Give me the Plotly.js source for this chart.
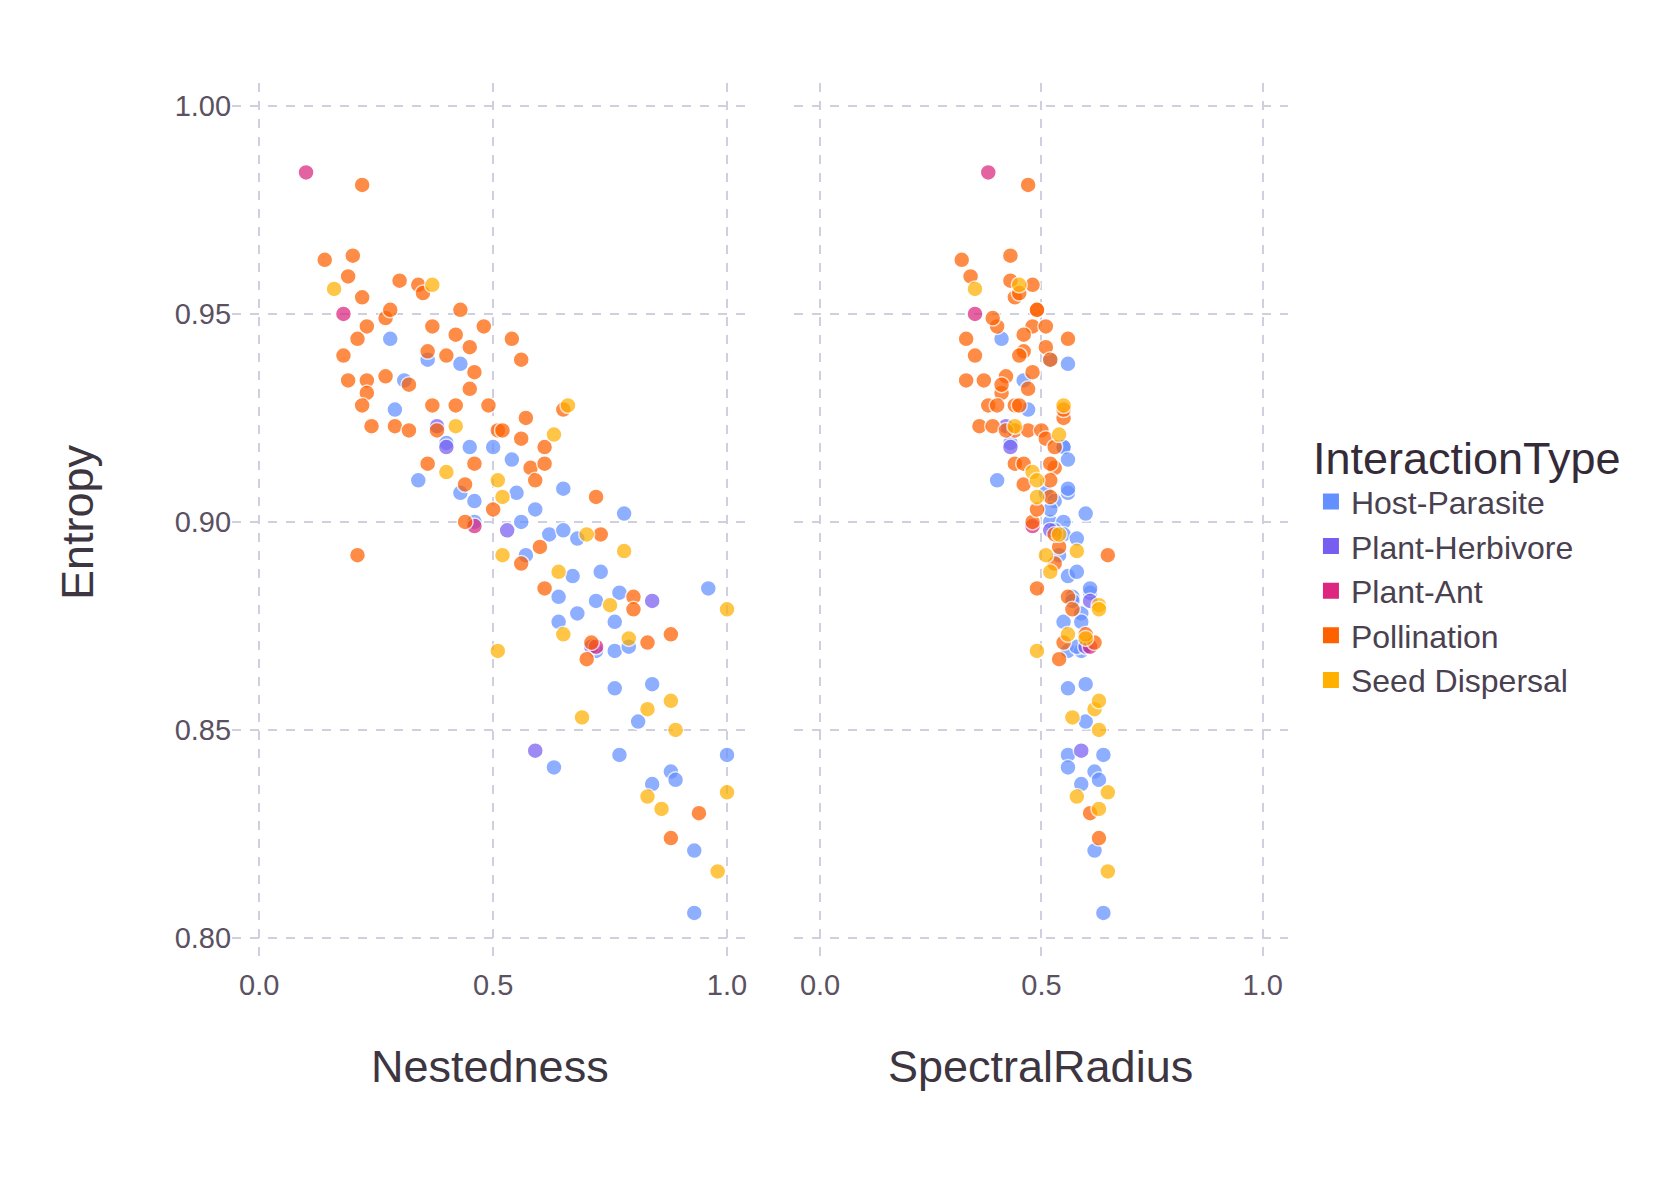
<!DOCTYPE html>
<html>
<head>
<meta charset="utf-8">
<script src="https://cdn.plot.ly/plotly-3.0.1.min.js"></script>
<style>body{margin:0;background:#fff}#chart{width:1670px;height:1181px}</style>
</head>
<body>
<div id="chart"></div>
<script>
const categories = ['Host-Parasite', 'Plant-Herbivore', 'Plant-Ant', 'Pollination', 'Seed Dispersal'];
const colors = ['#648fff', '#785ef0', '#dc267f', '#fe6100', '#ffb000'];

// Host-Parasite
const hpNested = [.28, .31, .29, .34, .36, .43, .45, .43, .46, .46, .50, .54, .55, .56, .57, .59, .62, .65, .65, .64, .64, .67, .68, .68, .72, .73, .72, .76, .77, .76, .79, .78, .76, .81, .84, .77, .84, .88, .89, .63, .96, 1.0, .93, .93, .40];
const hpSpectral = [.41, .46, .47, .40, .52, .56, .55, .51, .53, .52, .55, .56, .56, .55, .54, .52, .55, .53, .56, .57, .55, .56, .58, .59, .57, .58, .56, .59, .61, .59, .58, .60, .56, .60, .60, .56, .59, .62, .63, .56, .61, .64, .62, .64, .43];
const hpEntropy = [.944, .934, .927, .910, .939, .938, .918, .907, .905, .900, .918, .915, .907, .900, .892, .903, .897, .898, .908, .882, .876, .887, .896, .878, .881, .888, .869, .876, .883, .869, .870, .902, .860, .852, .861, .844, .837, .840, .838, .841, .884, .844, .821, .806, .919];

// Plant-Herbivore
const phNested = [.40, .38, .59, .84, .71, .53];
const phSpectral = [.43, .42, .59, .61, .60, .52];
const phEntropy = [.918, .923, .845, .881, .870, .898];

// Plant-Ant
const paNested = [.10, .18, .46, .72];
const paSpectral = [.38, .35, .48, .61];
const paEntropy = [.984, .950, .899, .870];

// Pollination
const poNested = [.22, .14, .20, .19, .22, .30, .34, .35, .23, .21, .27, .28, .18, .19, .23, .23, .22, .24, .27, .29, .32, .32, .36, .37, .40, .42, .43, .45, .48, .45, .46, .37, .38, .42, .36, .46, .44, .44, .49, .51, .52, .50, .54, .56, .56, .57, .58, .59, .61, .61, .65, .60, .56, .21, .61, .72, .73, .80, .80, .71, .70, .83, .88, .88, .94];
const poSpectral = [.47, .32, .43, .34, .44, .43, .48, .45, .40, .33, .39, .49, .35, .33, .37, .41, .38, .36, .42, .39, .44, .41, .46, .48, .45, .46, .49, .51, .51, .47, .48, .40, .42, .44, .44, .46, .46, .48, .45, .47, .50, .49, .56, .52, .51, .55, .53, .52, .52, .53, .55, .54, .53, .65, .49, .52, .53, .56, .57, .55, .54, .62, .60, .63, .61];
const poEntropy = [.981, .963, .964, .959, .954, .958, .957, .955, .947, .944, .949, .951, .940, .934, .934, .931, .928, .923, .935, .923, .922, .933, .941, .947, .940, .945, .951, .942, .947, .932, .936, .928, .922, .928, .914, .914, .909, .900, .928, .922, .922, .903, .944, .939, .920, .925, .913, .910, .914, .918, .927, .894, .890, .892, .884, .906, .897, .882, .879, .871, .867, .871, .873, .824, .830];

// Seed Dispersal
const sdNested = [.16, .37, .40, .42, .51, .52, .52, .51, .63, .66, .64, .65, .69, .75, .78, .79, .83, .83, .86, .88, .89, .98, 1.0, 1.0, .70];
const sdSpectral = [.35, .45, .48, .44, .49, .49, .51, .49, .54, .55, .52, .56, .57, .63, .58, .60, .62, .58, .63, .63, .63, .65, .63, .65, .54];
const sdEntropy = [.956, .957, .912, .923, .910, .906, .892, .869, .921, .928, .888, .873, .853, .880, .893, .872, .855, .834, .831, .857, .850, .816, .879, .835, .897];

const series = [
    [hpNested, hpSpectral, hpEntropy],
    [phNested, phSpectral, phEntropy],
    [paNested, paSpectral, paEntropy],
    [poNested, poSpectral, poEntropy],
    [sdNested, sdSpectral, sdEntropy],
];

const traces = [];
series.forEach(function(s, i) {
    const marker = {
        color: colors[i],
        size: 16,
        opacity: 0.72,
        line: {color: '#ffffff', width: 1.5},
    };
    traces.push({
        x: s[0], y: s[2], type: 'scatter', mode: 'markers',
        name: categories[i], showlegend: false,
        marker: marker, xaxis: 'x', yaxis: 'y',
    });
    traces.push({
        x: s[1], y: s[2], type: 'scatter', mode: 'markers',
        name: categories[i], showlegend: false,
        marker: marker, xaxis: 'x2', yaxis: 'y2',
    });
});
// legend entries with square keys
categories.forEach(function(c, i) {
    traces.push({
        x: [null], y: [null], type: 'scatter', mode: 'markers', name: c,
        marker: {color: colors[i], symbol: 'square', size: 19},
        xaxis: 'x', yaxis: 'y',
    });
});

const fam = 'Liberation Sans, Arial, sans-serif';
const tickFont = {family: fam, size: 29, color: '#5b5161'};
const titleFont = {family: fam, size: 45, color: '#3d3540'};
const gridStyle = {
    showgrid: true, gridcolor: '#cfcfe0', griddash: 'dash', gridwidth: 1.5,
    zeroline: false, showline: false, ticks: '', tickfont: tickFont,
};

const layout = {
    width: 1670, height: 1181,
    margin: {t: 0, r: 0, b: 0, l: 0},
    paper_bgcolor: '#ffffff', plot_bgcolor: '#ffffff',
    xaxis: Object.assign({}, gridStyle, {
        domain: [0.139, 0.4485], range: [-0.058, 1.047],
        tickvals: [0, 0.5, 1], tickformat: '.1f',
    }),
    xaxis2: Object.assign({}, gridStyle, {
        domain: [0.4754, 0.771], range: [-0.059, 1.056],
        tickvals: [0, 0.5, 1], tickformat: '.1f',
    }),
    yaxis: Object.assign({}, gridStyle, {
        domain: [0.1829, 0.9297], range: [0.7935, 1.0055],
        tickvals: [0.80, 0.85, 0.90, 0.95, 1.00], tickformat: '.2f',
    }),
    yaxis2: Object.assign({}, gridStyle, {
        domain: [0.1829, 0.9297], range: [0.7935, 1.0055], anchor: 'x2',
        tickvals: [0.80, 0.85, 0.90, 0.95, 1.00], showticklabels: false,
    }),
    annotations: [
        {text: 'Nestedness', x: 0.2937, y: 1 - 1066 / 1181, xref: 'paper', yref: 'paper',
         showarrow: false, font: titleFont, xanchor: 'center', yanchor: 'middle'},
        {text: 'SpectralRadius', x: 0.6232, y: 1 - 1066 / 1181, xref: 'paper', yref: 'paper',
         showarrow: false, font: titleFont, xanchor: 'center', yanchor: 'middle'},
        {text: 'Entropy', x: 77 / 1670, y: 1 - 522 / 1181, xref: 'paper', yref: 'paper',
         showarrow: false, font: titleFont, textangle: -90, xanchor: 'center', yanchor: 'middle'},
    ],
    legend: {
        x: 0.785, y: 0.648, xanchor: 'left', yanchor: 'top',
        title: {text: 'InteractionType', font: {family: fam, size: 45, color: '#352b38'}},
        font: {family: fam, size: 32, color: '#4a4150'},
        tracegroupgap: 4,
    },
    showlegend: true,
};

Plotly.newPlot('chart', traces, layout, {displayModeBar: false});
</script>
</body>
</html>
